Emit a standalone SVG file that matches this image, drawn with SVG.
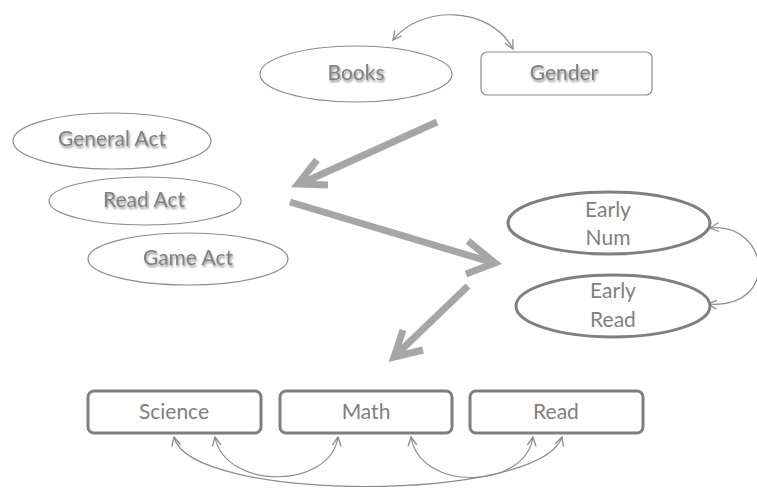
<svg xmlns="http://www.w3.org/2000/svg" width="757" height="489" viewBox="0 0 757 489">
  <style>
    .lbl { font-family: Lato, "Open Sans", "Liberation Sans", sans-serif; font-size: 21px; fill: #7f7f7f; text-anchor: middle; }
    .shd { fill: #808080; filter: url(#txtShadow); }
    .thin { fill: #ffffff; stroke: #8c8c8c; stroke-width: 1.2; }
    .bold { fill: #ffffff; stroke: #7f7f7f; stroke-width: 3; }
    .link { fill: none; stroke: #8c8c8c; stroke-width: 1.2; marker-start: url(#open); marker-end: url(#open); }
    .big { fill: none; stroke: #a6a6a6; stroke-width: 7; stroke-linejoin: miter; stroke-linecap: butt; }
  </style>
  <defs>
    <filter id="txtShadow" x="-20%" y="-30%" width="140%" height="170%">
      <feDropShadow dx="1" dy="2" stdDeviation="1.2" flood-color="#000000" flood-opacity="0.45"/>
    </filter>
    <marker id="open" viewBox="0 0 10 10" refX="9" refY="5" markerWidth="11" markerHeight="11" markerUnits="userSpaceOnUse" orient="auto-start-reverse">
      <path d="M1,1 L9,5 L1,9" fill="none" stroke="#8c8c8c" stroke-width="1.2"/>
    </marker>
  </defs>

  <rect width="757" height="489" fill="#ffffff"/>

  <!-- connectors -->
  <g id="connectors">
    <path class="link" d="M393,40 C420,5 490,5 513,49"/>
    <path class="link" d="M710,228 C770,222 780,310 708,304"/>
    <path class="link" d="M215,437 C225,490 330,490 338,437"/>
    <path class="link" d="M411,437 C420,492 525,490 533,437"/>
    <path class="link" d="M174,437 C190,503 540,503 562,437"/>
    <!-- broad flow arrows -->
    <g class="big">
      <path d="M437,122 L300,184"/>
      <path d="M317,160 L298,184 L328,185"/>
      <path d="M290,202 L494,263"/>
      <path d="M468,241 L495,263 L466,274"/>
      <path d="M468,286 L396,355"/>
      <path d="M403,330 L394,357 L423,350"/>
    </g>
  </g>

  <g id="books">
    <ellipse class="thin" cx="356" cy="74" rx="96" ry="28"/>
    <text class="lbl shd" x="356" y="80">Books</text>
  </g>
  <g id="gender">
    <rect class="thin" x="481" y="52" width="171" height="43" rx="6"/>
    <text class="lbl shd" x="564" y="80">Gender</text>
  </g>

  <g id="general-act">
    <ellipse class="thin" cx="112" cy="141" rx="99" ry="28"/>
    <text class="lbl shd" x="112" y="146">General Act</text>
  </g>
  <g id="read-act">
    <ellipse class="thin" cx="145" cy="201" rx="96" ry="24"/>
    <text class="lbl shd" x="144" y="207">Read Act</text>
  </g>
  <g id="game-act">
    <ellipse class="thin" cx="188" cy="259" rx="100" ry="26"/>
    <text class="lbl shd" x="188" y="265">Game Act</text>
  </g>

  <g id="early-num">
    <ellipse class="bold" cx="609" cy="223" rx="101" ry="31"/>
    <text class="lbl" x="608" y="217">Early</text>
    <text class="lbl" x="608" y="245">Num</text>
  </g>
  <g id="early-read">
    <ellipse class="bold" cx="613" cy="306" rx="97" ry="31"/>
    <text class="lbl" x="613" y="298">Early</text>
    <text class="lbl" x="613" y="327">Read</text>
  </g>

  <g id="science">
    <rect class="bold" x="88" y="391" width="173" height="42" rx="6"/>
    <text class="lbl" x="174" y="419">Science</text>
  </g>
  <g id="math">
    <rect class="bold" x="280" y="391" width="172" height="42" rx="6"/>
    <text class="lbl" x="366" y="419">Math</text>
  </g>
  <g id="read">
    <rect class="bold" x="470" y="391" width="173" height="42" rx="6"/>
    <text class="lbl" x="556" y="419">Read</text>
  </g>
</svg>
